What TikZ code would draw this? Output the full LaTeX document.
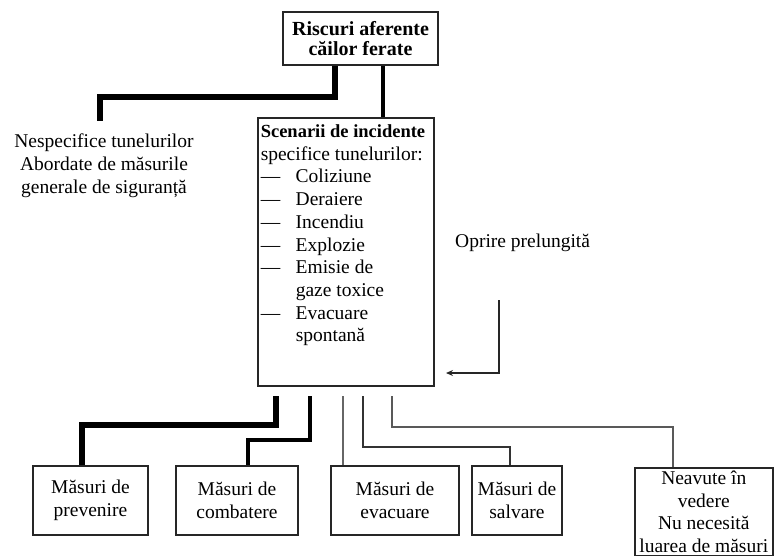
\documentclass[tikz,border=0pt]{standalone}
\usepackage{fontspec}
\setmainfont{Liberation Serif}
\usetikzlibrary{arrows.meta}
\begin{document}
\begin{tikzpicture}[x=1pt,y=-1pt,
  every node/.style={font=\fontsize{19.5}{23}\selectfont},
  boxst/.style={draw=black!85, line width=1.5pt, inner sep=3pt},
  mbox/.style={boxst, minimum height=69pt, align=center},
  heavy/.style={line width=6.5pt, black},
  medium/.style={line width=4.5pt, black},
  light/.style={line width=1.6pt, black!80},
  arr/.style={line width=2pt, black!85, -{Stealth[length=7pt,width=6pt]}}
]
\useasboundingbox (0,0) rectangle (774,555);

% top box
\node[boxst, minimum width=155pt, minimum height=53pt, align=center,
      font=\fontsize{20}{20}\selectfont\bfseries] (top) at (360.5,38.5)
      {Riscuri aferente\\căilor ferate};

% left text
\node[align=center, inner sep=0pt] (left) at (104,166)
  {Nespecifice tunelurilor\\Abordate de măsurile\\generale de siguranță};

% scenario box
\node[boxst, anchor=north west, inner sep=0pt, minimum width=176pt] (scen) at (257,117)
  {\parbox[t][268pt][t]{170pt}{\fontsize{19.5}{22.7}\selectfont\vspace{7pt}%
   {\fontsize{18.5}{22.7}\selectfont\bfseries Scenarii de incidente}\\
   specifice tunelurilor:\\
   \makebox[35pt][l]{—}Coliziune\\
   \makebox[35pt][l]{—}Deraiere\\
   \makebox[35pt][l]{—}Incendiu\\
   \makebox[35pt][l]{—}Explozie\\
   \makebox[35pt][l]{—}Emisie de\\
   \makebox[35pt][l]{}gaze toxice\\
   \makebox[35pt][l]{—}Evacuare\\
   \makebox[35pt][l]{}spontană}};

% right label
\node[anchor=west, inner sep=0pt] (opr) at (455,243) {Oprire prelungită};

% bottom boxes
\node[mbox, minimum width=115pt] (m1) at (90.5,500.5) {Măsuri de\\prevenire};
\node[mbox, minimum width=122pt] (m2) at (237,500.5) {Măsuri de\\combatere};
\node[mbox, minimum width=128pt] (m3) at (395,500.5) {Măsuri de\\evacuare};
\node[mbox, minimum width=90pt] (m4) at (517,500.5) {Măsuri de\\salvare};
\node[boxst, anchor=north west, minimum width=138pt, align=center, inner sep=3pt,
      font=\fontsize{19.5}{22.8}\selectfont] (m5) at (634,467)
  {Neavute în\\vedere\\Nu necesită\\luarea de măsuri};

% top connectors
\coordinate (c1) at (335,97);
\coordinate (lt) at (100,121);
\coordinate (t2) at (383,0);
\draw[heavy] (top.south -| c1) -- (c1) -| (lt);
\draw[medium] (top.south -| t2) -- (scen.north -| t2);

% arrow
\coordinate (a0) at (499,300);
\coordinate (a1) at (446,373);
\draw[arr] (a0) |- (a1);

% bottom connectors
\coordinate (b1) at (276,396); \coordinate (k1) at (82,425);
\coordinate (b2) at (310,396); \coordinate (k2) at (248,440);
\coordinate (b3) at (343,396);
\coordinate (b4) at (363,396); \coordinate (k4) at (510,447);
\coordinate (b5) at (392,396); \coordinate (k5) at (673,427);
\draw[heavy] (b1) |- (k1) -- (m1.north -| k1);
\draw[medium] (b2) |- (k2) -- (m2.north -| k2);
\draw[light, black!60] (b3) -- (m3.north -| b3);
\draw[light] (b4) |- (k4) -- (m4.north -| k4);
\draw[light, black!65] (b5) |- (k5) -- (m5.north -| k5);
\end{tikzpicture}
\end{document}
